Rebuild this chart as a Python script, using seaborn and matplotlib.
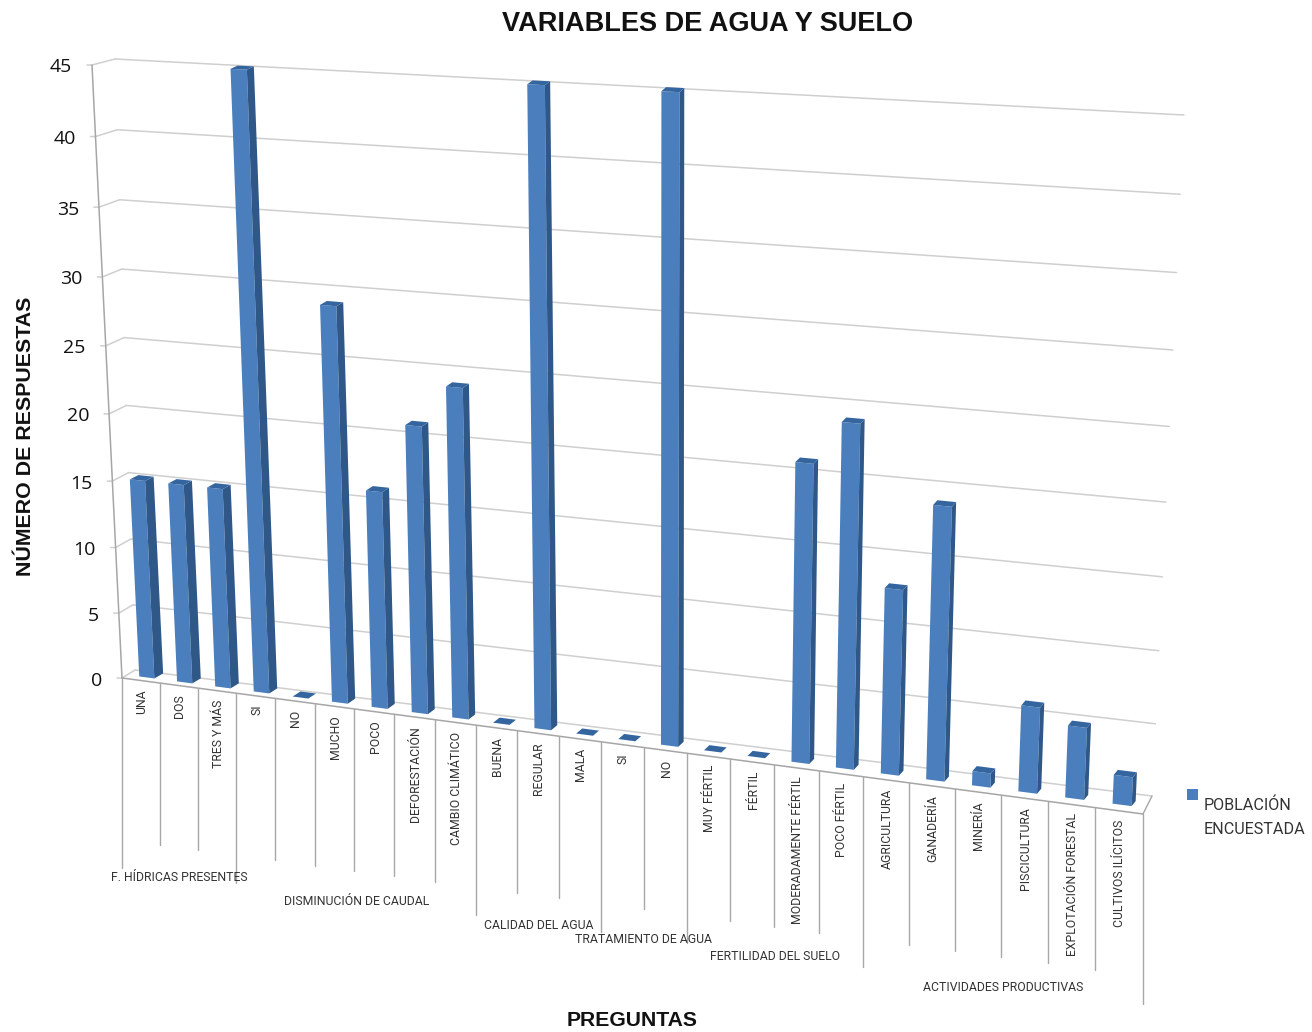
import numpy as np
import pandas as pd
import matplotlib
matplotlib.use("Agg")
import matplotlib.pyplot as plt
import matplotlib.transforms as mtransforms
from matplotlib.patches import Polygon, Patch, Rectangle
from matplotlib.legend_handler import HandlerPatch
import seaborn as sns

# ---------- data ----------
categories = ["UNA", "DOS", "TRES Y MÁS", "SI", "NO", "MUCHO", "POCO", "DEFORESTACIÓN",
              "CAMBIO CLIMÁTICO", "BUENA", "REGULAR", "MALA", "SI", "NO", "MUY FÉRTIL",
              "FÉRTIL", "MODERADAMENTE FÉRTIL", "POCO FÉRTIL", "AGRICULTURA", "GANADERÍA",
              "MINERÍA", "PISCICULTURA", "EXPLOTACIÓN FORESTAL", "CULTIVOS ILÍCITOS"]
values = [15, 15, 15, 45, 0, 29, 16, 21, 24, 0, 45, 0, 0, 45, 0, 0, 21, 24, 13, 19, 1, 6, 5, 2]
groups = ["F. HÍDRICAS PRESENTES", "DISMINUCIÓN DE CAUDAL", "CALIDAD DEL AGUA",
          "TRATAMIENTO DE AGUA", "FERTILIDAD DEL SUELO", "ACTIVIDADES PRODUCTIVAS"]
group_sizes = [3, 6, 3, 2, 4, 6]
yticks = list(range(0, 50, 5))
series_name = "POBLACIÓN\nENCUESTADA"
title = "VARIABLES DE AGUA Y SUELO"
xlabel = "PREGUNTAS"
ylabel = "NÚMERO DE RESPUESTAS"

W, H_PX = 1312, 1032


class Homography(mtransforms.Transform):
    input_dims = 2
    output_dims = 2
    is_separable = False
    has_inverse = False

    def __init__(self, quad):
        super().__init__()
        # quad: pixel (top-origin) of (-.5,0), (23.5,0), (-.5,45), (23.5,45)
        src = [(-0.5, 0), (23.5, 0), (-0.5, 45), (23.5, 45)]
        A, b = [], []
        for (x, y), (px, py) in zip(src, quad):
            py = H_PX - py
            A.append([x, y, 1, 0, 0, 0, -x * px, -y * px]); b.append(px)
            A.append([0, 0, 0, x, y, 1, -x * py, -y * py]); b.append(py)
        h = np.linalg.solve(np.array(A, float), np.array(b, float))
        self.m = np.append(h, 1).reshape(3, 3)

    def transform_non_affine(self, pts):
        pts = np.asarray(pts, float)
        q = np.c_[pts, np.ones(len(pts))] @ self.m.T
        return q[:, :2] / q[:, 2:]


edge = Homography([(122, 678), (1143, 814), (92, 65), (1175, 124)])
back = Homography([(135, 670), (1152, 796), (115, 59), (1184, 115)])
bar_front = Homography([(128, 675), (1146, 808), (98, 62), (1178, 118)])
bar_back = Homography([(137, 670), (1150, 803), (106, 59), (1181.5, 113)])

sns.set_theme(style="white")
plt.rcParams["font.family"] = ["Liberation Sans", "DejaVu Sans"]
fig = plt.figure(figsize=(W / 100, H_PX / 100), dpi=100)
ax = fig.add_axes([0, 0, 1, 1])

df = pd.DataFrame({"pos": np.arange(len(values)), "val": values})
sns.barplot(data=df, x="pos", y="val", color="#4A7EBD", saturation=1, width=0.40,
            linewidth=0, ax=ax, zorder=5)
ax.set_xlim(-0.5, 23.5)
ax.set_ylim(0, 45)
ax.axis("off")

ident = mtransforms.IdentityTransform()
GRID = "#cfcfcf"
AXC = "#a6a6a6"

# back-wall and side-wall gridlines
for v in yticks:
    ax.plot([-0.5, 23.5], [v, v], transform=back, color=GRID, lw=1.1, zorder=1, clip_on=False)
    a = edge.transform(np.array([[-0.5, v]]))[0]
    b = back.transform(np.array([[-0.5, v]]))[0]
    ax.plot([a[0] - 5, a[0], b[0]], [a[1], a[1], b[1]], transform=ident, color=GRID, lw=1.1,
            zorder=1, clip_on=False)
    ax.annotate(str(v), xy=(-0.5, v), xycoords=edge, xytext=(-20, -2.5), textcoords="offset pixels",
                ha="right", va="center", fontsize=14, color="#111111",
                family=["Open Sans", "DejaVu Sans"])

# axis, floor
ax.plot([-0.5, -0.5], [0, 45], transform=edge, color=AXC, lw=1.1, zorder=2, clip_on=False)
ax.plot([-0.5, 23.5], [0, 0], transform=edge, color=AXC, lw=1.1, zorder=2, clip_on=False)
c1 = edge.transform(np.array([[23.5, 0]]))[0]
c2 = back.transform(np.array([[23.5, 0]]))[0]
ax.plot([c1[0], c2[0]], [c1[1], c2[1]], transform=ident, color=AXC, lw=1.0, zorder=2, clip_on=False)

# bars: transform the seaborn rectangles and add 3-D side and cap from each one's geometry
for p in list(ax.patches):
    x0, x1, h = p.get_x(), p.get_x() + p.get_width(), p.get_height()
    p.set_transform(bar_front)
    p.set_clip_on(False)
    side = np.vstack([bar_front.transform(np.array([[x1, 0], [x1, h]])),
                      bar_back.transform(np.array([[x1, h], [x1, 0]]))])
    cap = np.vstack([bar_front.transform(np.array([[x0, h], [x1, h]])),
                     bar_back.transform(np.array([[x1, h], [x0, h]]))])
    ax.add_patch(Polygon(side, closed=True, transform=ident, fc="#2F5788", ec="none", zorder=5, clip_on=False))
    ax.add_patch(Polygon(cap, closed=True, transform=ident, fc="#34659F", ec="none", zorder=6, clip_on=False))

# category labels
LAB = ["Roboto", "DejaVu Sans"]
for i, name in enumerate(categories):
    ax.annotate(name, xy=(i, 0), xycoords=edge, xytext=(1, -9), textcoords="offset pixels",
                rotation=90, ha="center", va="top", fontsize=8.8, color="#333333", family=LAB)

# dividers
bounds = np.cumsum([0] + group_sizes) - 0.5
for u in np.arange(-0.5, 24):
    t = edge.transform(np.array([[u, 0]]))[0]
    L = 190 if np.any(np.isclose(bounds, u)) else 162
    ax.plot([t[0], t[0]], [t[1], t[1] - L], transform=ident, color="#a8a8a8", lw=1.0, zorder=2, clip_on=False)

# group labels
for g, lo, hi in zip(groups, bounds[:-1], bounds[1:]):
    m = edge.transform(np.array([[lo, 0], [hi, 0]]))
    cx, cy = m.mean(axis=0)
    ax.text(cx, cy - 192, g, transform=ident, ha="center", va="center", fontsize=8.8,
            color="#333333", family=LAB, zorder=3)

fig.text(708 / W, 1 - 24 / H_PX, title, ha="center", va="center", fontsize=19.5, fontweight="bold", color="#111111")
fig.text(632 / W, 1 - 1021 / H_PX, xlabel, ha="center", va="center", fontsize=15.2, fontweight="bold", color="#111111")
fig.text(26 / W, 1 - 436 / H_PX, ylabel, rotation=90, ha="center", va="center", fontsize=15.4, fontweight="bold", color="#111111")


def raised_square(legend, orig_handle, xdescent, ydescent, width, height, fontsize):
    # the key sits beside the first line of the two-line label
    return Rectangle((-xdescent, -ydescent + 17.0), width, height)


leg = fig.legend(handles=[Patch(fc="#4A7EBD", ec="none")], labels=[series_name],
                 loc="upper left", bbox_to_anchor=(1187 / W, 1 - 798 / H_PX), frameon=False,
                 handlelength=0.7, handleheight=0.7, handletextpad=0.35, borderpad=0,
                 borderaxespad=0, prop={"family": LAB, "size": 11.6}, labelcolor="#333333",
                 handler_map={Patch: HandlerPatch(patch_func=raised_square)})
leg.get_texts()[0].set_linespacing(1.7)

fig.savefig("out.png", dpi=100, facecolor="white")
